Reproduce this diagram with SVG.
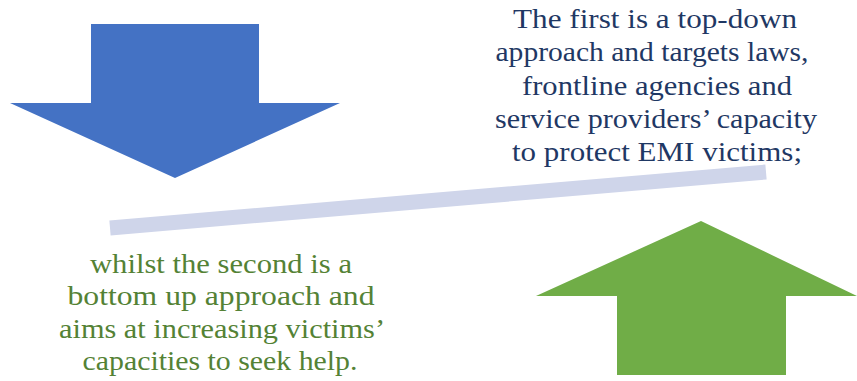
<svg xmlns="http://www.w3.org/2000/svg" width="857" height="381" viewBox="0 0 857 381">
<style>
.t{font-family:"Liberation Serif","Times New Roman",serif;font-size:28px;text-anchor:middle}
.b{fill:#1F3864}
.g{fill:#548235}
</style>
<rect width="857" height="381" fill="#fff"/>
<g id="bar"><line x1="110" y1="228" x2="766" y2="172" stroke="#CFD5EA" stroke-width="15"/></g>
<g id="arrow-down"><polygon points="91,24 259,24 259,103 340,103 175,178 10,103 91,103" fill="#4472C4"/></g>
<g id="arrow-up"><polygon points="701,221 857,296 786,296 786,375 617,375 617,296 536,296" fill="#70AD47"/></g>
<g id="text-top" class="t b">
<text x="655" y="28" textLength="284" lengthAdjust="spacingAndGlyphs">The first is a top-down</text>
<text x="652" y="61" textLength="313" lengthAdjust="spacingAndGlyphs">approach and targets laws,</text>
<text x="657" y="95" textLength="270" lengthAdjust="spacingAndGlyphs">frontline agencies and</text>
<text x="656" y="128" textLength="322" lengthAdjust="spacingAndGlyphs">service providers’ capacity</text>
<text x="657" y="161" textLength="290" lengthAdjust="spacingAndGlyphs">to protect EMI victims;</text>
</g>
<g id="text-bottom" class="t g">
<text x="221" y="273" textLength="262" lengthAdjust="spacingAndGlyphs">whilst the second is a</text>
<text x="221" y="305" textLength="307" lengthAdjust="spacingAndGlyphs">bottom up approach and</text>
<text x="222" y="338" textLength="326" lengthAdjust="spacingAndGlyphs">aims at increasing victims’</text>
<text x="220" y="370" textLength="275" lengthAdjust="spacingAndGlyphs">capacities to seek help.</text>
</g>
</svg>
